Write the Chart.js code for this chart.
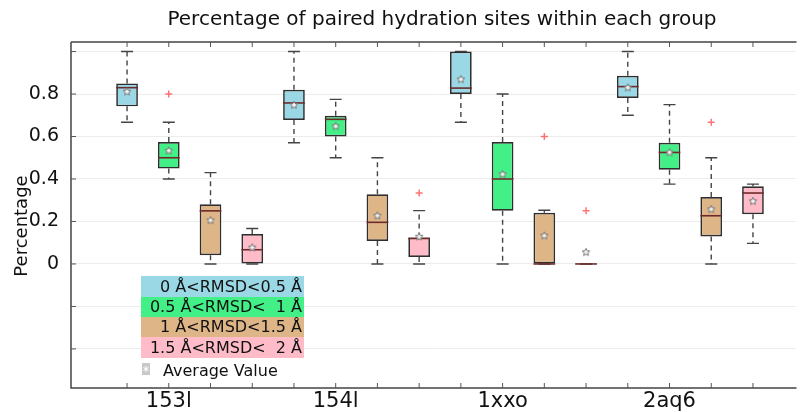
<!DOCTYPE html>
<html>
<head>
<meta charset="utf-8">
<script src="https://cdn.jsdelivr.net/npm/chart.js@4.4.0/dist/chart.umd.min.js"></script>
<style>
html, body { margin: 0; padding: 0; background: #fff; }
#wrap { width: 802px; height: 412px; }
</style>
</head>
<body>
<div id="wrap"><canvas id="chart"></canvas></div>
<script>
// groups along the x axis and the four RMSD bins
const categories = ["153l", "154l", "1xxo", "2aq6"];
const seriesLabels = ["  0 Å<RMSD<0.5 Å", "0.5 Å<RMSD<  1 Å", "  1 Å<RMSD<1.5 Å", "1.5 Å<RMSD<  2 Å"];
const seriesColors = ["#9ad8e6", "#42f087", "#deb587", "#ffbcc8"];

// one row per bin, one column per group
const whiskerLow = [
    [0.667, 0.571, 0.667, 0.700],
    [0.400, 0.500, 0.000, 0.376],
    [0.000, 0.000, 0.000, 0.000],
    [0.000, 0.000, 0.000, 0.097]
];
const q1 = [
    [0.742, 0.678, 0.800, 0.781],
    [0.449, 0.600, 0.251, 0.444],
    [0.041, 0.108, 0.000, 0.129],
    [0.000, 0.033, 0.000, 0.234]
];
const medians = [
    [0.830, 0.758, 0.828, 0.835],
    [0.500, 0.681, 0.400, 0.525],
    [0.250, 0.196, 0.000, 0.227],
    [0.067, 0.120, 0.000, 0.334]
];
const q3 = [
    [0.850, 0.820, 1.000, 0.886],
    [0.574, 0.698, 0.574, 0.571],
    [0.281, 0.328, 0.241, 0.315],
    [0.141, 0.125, 0.000, 0.366]
];
const whiskerHigh = [
    [1.000, 1.000, 1.000, 1.000],
    [0.667, 0.775, 0.800, 0.750],
    [0.430, 0.500, 0.253, 0.500],
    [0.167, 0.251, 0.000, 0.376]
];
const means = [
    [0.811, 0.748, 0.869, 0.830],
    [0.533, 0.648, 0.422, 0.525],
    [0.205, 0.227, 0.133, 0.257],
    [0.077, 0.128, 0.055, 0.295]
];
const outliers = [
    [[], [], [], []],
    [[0.800], [], [], []],
    [[], [], [0.600], [0.667]],
    [[], [0.334], [0.250], []]
];
const yTickValues = [-0.4, -0.2, 0, 0.2, 0.4, 0.6, 0.8, 1.0];

// every box sits at position group*4 + bin
const boxes = [];
categories.forEach((cat, g) => {
    seriesLabels.forEach((lab, s) => boxes.push({ pos: g * 4 + s, g: g, s: s }));
});

const outlierPoints = [];
boxes.forEach(b => {
    outliers[b.s][b.g].forEach(v => outlierPoints.push({ x: b.pos, y: v }));
});

// small 5-point star for the mean marker
function makeStar() {
    const c = document.createElement("canvas");
    c.width = 10; c.height = 10;
    const x = c.getContext("2d");
    x.beginPath();
    for (let i = 0; i < 10; i++) {
        const a = -Math.PI / 2 + i * Math.PI / 5;
        const r = i % 2 ? 1.9 : 4;
        x.lineTo(5 + r * Math.cos(a), 5 + r * Math.sin(a));
    }
    x.closePath();
    x.fillStyle = "#f2f2f2";
    x.fill();
    x.strokeStyle = "#777";
    x.lineWidth = 1;
    x.stroke();
    return c;
}

const FONT = '"DejaVu Sans", sans-serif';

const boxPlugin = {
    id: "boxExtras",
    beforeDatasetsDraw(chart) {
        const ctx = chart.ctx, xs = chart.scales.x, ys = chart.scales.y;
        ctx.save();
        ctx.strokeStyle = "#444";
        ctx.lineWidth = 1.4;
        boxes.forEach(b => {
            const px = xs.getPixelForValue(b.pos);
            const lo = ys.getPixelForValue(whiskerLow[b.s][b.g]);
            const hi = ys.getPixelForValue(whiskerHigh[b.s][b.g]);
            const bq1 = ys.getPixelForValue(q1[b.s][b.g]);
            const bq3 = ys.getPixelForValue(q3[b.s][b.g]);
            ctx.setLineDash([5, 4]);
            ctx.beginPath();
            ctx.moveTo(px, bq1); ctx.lineTo(px, lo);
            ctx.moveTo(px, bq3); ctx.lineTo(px, hi);
            ctx.stroke();
            ctx.setLineDash([]);
            ctx.beginPath();
            ctx.moveTo(px - 6, lo); ctx.lineTo(px + 6, lo);
            ctx.moveTo(px - 6, hi); ctx.lineTo(px + 6, hi);
            ctx.stroke();
        });
        ctx.restore();
    },
    afterDatasetDraw(chart, args) {
        if (args.meta.type !== "bar") return;
        const ctx = chart.ctx, ys = chart.scales.y;
        ctx.save();
        ctx.strokeStyle = "#6e2a2a";
        ctx.lineWidth = 1.6;
        args.meta.data.forEach((bar, i) => {
            const b = boxes[i];
            const py = ys.getPixelForValue(medians[b.s][b.g]);
            ctx.beginPath();
            ctx.moveTo(bar.x - bar.width / 2, py);
            ctx.lineTo(bar.x + bar.width / 2, py);
            ctx.stroke();
        });
        ctx.restore();
    },
    afterDraw(chart) {
        const ctx = chart.ctx, xs = chart.scales.x, ys = chart.scales.y;
        const a = chart.chartArea;
        ctx.save();

        // frame and inward tick marks
        ctx.strokeStyle = "#444";
        ctx.lineWidth = 1.5;
        ctx.beginPath();
        ctx.moveTo(a.left, a.top); ctx.lineTo(a.right, a.top);
        ctx.moveTo(a.left, a.top); ctx.lineTo(a.left, a.bottom);
        ctx.lineTo(a.right, a.bottom);
        ctx.stroke();
        ctx.lineWidth = 1;
        ctx.strokeStyle = "#555";
        ctx.beginPath();
        boxes.forEach(b => {
            const px = xs.getPixelForValue(b.pos);
            ctx.moveTo(px, a.bottom); ctx.lineTo(px, a.bottom - 5);
            ctx.moveTo(px, a.top); ctx.lineTo(px, a.top + 5);
        });
        yTickValues.forEach(v => {
            const py = ys.getPixelForValue(v);
            ctx.moveTo(a.left, py); ctx.lineTo(a.left + 5, py);
        });
        ctx.stroke();

        // title and y label
        ctx.fillStyle = "#111";
        ctx.font = "20px " + FONT;
        ctx.textAlign = "center";
        ctx.textBaseline = "middle";
        ctx.fillText("Percentage of paired hydration sites within each group", 442, 20);
        ctx.save();
        ctx.translate(22, 226);
        ctx.rotate(-Math.PI / 2);
        ctx.font = "18px " + FONT;
        ctx.fillText("Percentage", 0, 0);
        ctx.restore();

        // legend
        const rowTop = [276, 297, 317, 337];
        const rowH = [21, 20, 20, 21];
        ctx.font = "16px " + FONT;
        ctx.textAlign = "right";
        seriesLabels.forEach((lab, s) => {
            ctx.fillStyle = seriesColors[s];
            ctx.fillRect(141, rowTop[s], 163, rowH[s]);
            ctx.fillStyle = "#111";
            ctx.fillText(lab, 302, rowTop[s] + rowH[s] / 2 + 1);
        });
        ctx.fillStyle = "#c8c8c8";
        ctx.fillRect(142, 363, 8, 12);
        ctx.strokeStyle = "#fff";
        ctx.lineWidth = 1;
        ctx.beginPath();
        ctx.moveTo(146, 366); ctx.lineTo(146, 372);
        ctx.moveTo(143.5, 367.5); ctx.lineTo(148.5, 370.5);
        ctx.moveTo(143.5, 370.5); ctx.lineTo(148.5, 367.5);
        ctx.stroke();
        ctx.fillStyle = "#111";
        ctx.textAlign = "left";
        ctx.fillText("Average Value", 163, 372);
        ctx.restore();
    }
};

const chart = new Chart(document.getElementById("chart"), {
    type: "bar",
    data: {
        datasets: [{
            type: "scatter",
            order: 0,
            data: boxes.map(b => ({ x: b.pos, y: means[b.s][b.g] })),
            pointStyle: makeStar(),
            pointRadius: 4
        }, {
            type: "scatter",
            order: 1,
            data: outlierPoints,
            pointStyle: "cross",
            pointRadius: 3.5,
            borderColor: "rgba(255, 70, 70, 0.75)",
            borderWidth: 1.5
        }, {
            type: "bar",
            order: 2,
            data: boxes.map(b => ({ x: b.pos, y: [q1[b.s][b.g], q3[b.s][b.g]] })),
            backgroundColor: boxes.map(b => seriesColors[b.s]),
            borderColor: "#2e2e2e",
            borderWidth: 1.7,
            borderSkipped: false,
            categoryPercentage: 1,
            barPercentage: 0.52
        }]
    },
    options: {
        responsive: true,
        maintainAspectRatio: false,
        animation: false,
        events: [],
        layout: { padding: { top: 42, right: 0, bottom: 0, left: 0 } },
        plugins: {
            legend: { display: false },
            title: { display: false },
            tooltip: { enabled: false }
        },
        scales: {
            x: {
                type: "linear",
                min: -0.8,
                max: 15.5,
                afterFit(scale) { scale.height = 24; },
                afterBuildTicks(scale) {
                    scale.ticks = boxes.map(b => ({ value: b.pos }));
                },
                grid: { display: false, drawTicks: false },
                border: { display: false },
                ticks: {
                    autoSkip: false,
                    maxRotation: 0,
                    padding: 1,
                    color: "#111",
                    font: { family: "DejaVu Sans", size: 21 },
                    callback: v => (v % 4 === 1 ? categories[(v - 1) / 4] : "")
                }
            },
            y: {
                min: -0.584,
                max: 1.045,
                afterFit(scale) { scale.width = 71; },
                afterBuildTicks(scale) {
                    scale.ticks = yTickValues.map(v => ({ value: v }));
                },
                grid: { color: "#ececec", lineWidth: 1, drawTicks: false },
                border: { display: false },
                ticks: {
                    padding: 12,
                    color: "#111",
                    font: { family: "DejaVu Sans", size: 19 },
                    callback: v => (v === 0 ? "0" : (v > 0 && v < 0.9 ? v.toFixed(1) : ""))
                }
            }
        }
    },
    plugins: [boxPlugin]
});
</script>
</body>
</html>
